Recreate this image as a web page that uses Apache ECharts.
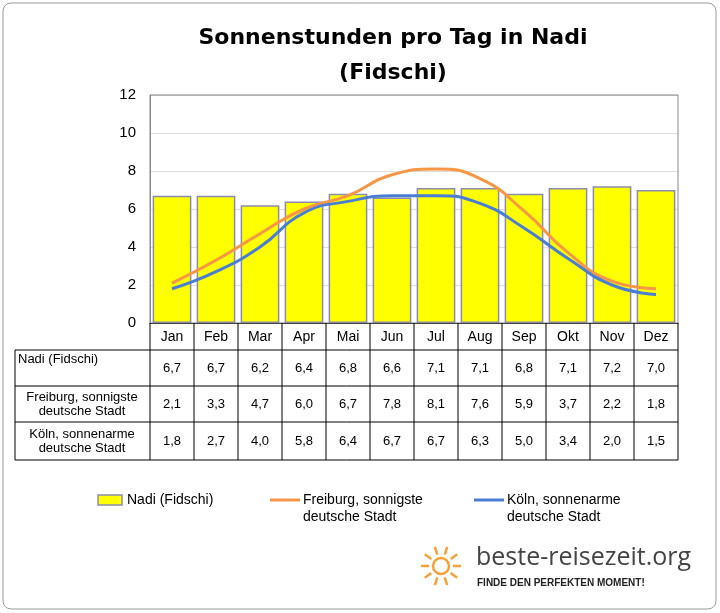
<!DOCTYPE html>
<html><head><meta charset="utf-8">
<script src="https://cdn.jsdelivr.net/npm/echarts@6/dist/echarts.min.js"></script>
<style>body{margin:0;background:#fff}#c{width:720px;height:613px}</style>
</head><body><div id="c"></div>
<script>
const months=['Jan','Feb','Mar','Apr','Mai','Jun','Jul','Aug','Sep','Okt','Nov','Dez'];
const nadi=[6.7,6.7,6.2,6.4,6.8,6.6,7.1,7.1,6.8,7.1,7.2,7.0];
const freiburg=[2.1,3.3,4.7,6.0,6.7,7.8,8.1,7.6,5.9,3.7,2.2,1.8];
const koeln=[1.8,2.7,4.0,5.8,6.4,6.7,6.7,6.3,5.0,3.4,2.0,1.5];
const rowNames=['Nadi (Fidschi)','Freiburg, sonnigste\ndeutsche Stadt','Köln, sonnenarme\ndeutsche Stadt'];
const yTicks=[0,12,2];
const chart=echarts.init(document.getElementById('c'));
const L=150,R=678,T=95,B=323;
const cw=(R-L)/12;
const rows=[[323,350],[350,386],[386,422],[422,460]];
const g=[];
g.push({type:'rect',shape:{x:3,y:3,width:713,height:606,r:8},style:{fill:'none',stroke:'#999',lineWidth:1}});
const ln=(x1,y1,x2,y2)=>g.push({type:'line',shape:{x1,y1,x2,y2},style:{stroke:'#000',lineWidth:1},z:10});
ln(L,323,L,460);ln(R,323,R,460);ln(15,350,15,460);
rows.forEach((r,i)=>{ if(i>0) ln(15,r[1],R,r[1]); else ln(15,350,R,350);});
for(let i=1;i<12;i++) ln(L+i*cw,323,L+i*cw,460);
months.forEach((m,i)=>g.push({type:'text',x:L+(i+0.5)*cw,y:337,style:{text:m,font:'14px Liberation Sans, Arial',fill:'#000',align:'center',verticalAlign:'middle'}}));
[nadi,freiburg,koeln].forEach((arr,ri)=>{
  const yc=(rows[ri+1][0]+rows[ri+1][1])/2;
  const multi=rowNames[ri].includes('\n');
  g.push({type:'text',x:multi?82:18,y:multi?yc:rows[ri+1][0]+9,style:{text:rowNames[ri],font:'13px Liberation Sans, Arial',fill:'#000',align:multi?'center':'left',verticalAlign:'middle',lineHeight:14}});
  arr.forEach((v,i)=>g.push({type:'text',x:L+(i+0.5)*cw,y:yc,style:{text:v.toFixed(1).replace('.',','),font:'13px Liberation Sans, Arial',fill:'#000',align:'center',verticalAlign:'middle'}}));
});
// legend
g.push({type:'rect',shape:{x:98,y:495,width:24,height:10},style:{fill:'#ffff00',stroke:'#8c8cb0',lineWidth:1.5}});
g.push({type:'text',x:127,y:500,style:{text:'Nadi (Fidschi)',font:'14px Liberation Sans, Arial',fill:'#000',verticalAlign:'middle'}});
g.push({type:'line',shape:{x1:270,y1:500,x2:300,y2:500},style:{stroke:'#f79646',lineWidth:3}});
g.push({type:'text',x:303,y:509,style:{text:'Freiburg, sonnigste\ndeutsche Stadt',font:'14px Liberation Sans, Arial',fill:'#000',verticalAlign:'middle',lineHeight:17}});
g.push({type:'line',shape:{x1:474,y1:500,x2:504,y2:500},style:{stroke:'#4a7ed4',lineWidth:3}});
g.push({type:'text',x:507,y:509,style:{text:'Köln, sonnenarme\ndeutsche Stadt',font:'14px Liberation Sans, Arial',fill:'#000',verticalAlign:'middle',lineHeight:17}});
// logo
const sx=441,sy=566;
for(let k=0;k<10;k++){const a=k*Math.PI/5;g.push({type:'line',shape:{x1:sx+Math.cos(a)*12,y1:sy+Math.sin(a)*12,x2:sx+Math.cos(a)*20,y2:sy+Math.sin(a)*20},style:{stroke:'#f7a13a',lineWidth:2.5}});}
g.push({type:'circle',shape:{cx:sx,cy:sy,r:8},style:{fill:'none',stroke:'#f7a13a',lineWidth:2.5}});
g.push({type:'text',x:476,y:558,style:{text:'beste-reisezeit.org',font:'25px Open Sans, Liberation Sans',fill:'#444',verticalAlign:'middle'}});
g.push({type:'text',x:477,y:583,style:{text:'FINDE DEN PERFEKTEN MOMENT!',font:'bold 10px Liberation Sans, Arial',fill:'#222',verticalAlign:'middle'}});
g.push({type:'rect',shape:{x:L,y:T,width:R-L,height:B-T},style:{fill:'none',stroke:'#888',lineWidth:1},z:5});
chart.setOption({
  animation:false,
  title:{text:'Sonnenstunden pro Tag in Nadi\n(Fidschi)',left:388,top:16,textAlign:'center',textStyle:{fontSize:22,fontWeight:900,fontFamily:'DejaVu Sans',color:'#000',lineHeight:35}},
  grid:{left:L,right:720-R,top:T,bottom:613-B},
  xAxis:{type:'category',data:months,axisLabel:{show:false},axisTick:{show:false},axisLine:{lineStyle:{color:'#000'}}},
  yAxis:{type:'value',min:yTicks[0],max:yTicks[1],interval:yTicks[2],axisLine:{show:true,lineStyle:{color:'#888'}},axisTick:{show:false},splitLine:{lineStyle:{color:'#ddd'}},axisLabel:{fontSize:15,color:'#000',fontFamily:'Liberation Sans, Arial',margin:14}},
  series:[
    {type:'bar',data:nadi,barCategoryGap:'12%',itemStyle:{color:'#ffff00',borderColor:'#8c8cb0',borderWidth:1.5}},
    {type:'line',data:freiburg,smooth:true,symbol:'none',lineStyle:{color:'#f79646',width:3}},
    {type:'line',data:koeln,smooth:true,symbol:'none',lineStyle:{color:'#4a7ed4',width:3}}
  ],
  graphic:g
});
</script></body></html>
